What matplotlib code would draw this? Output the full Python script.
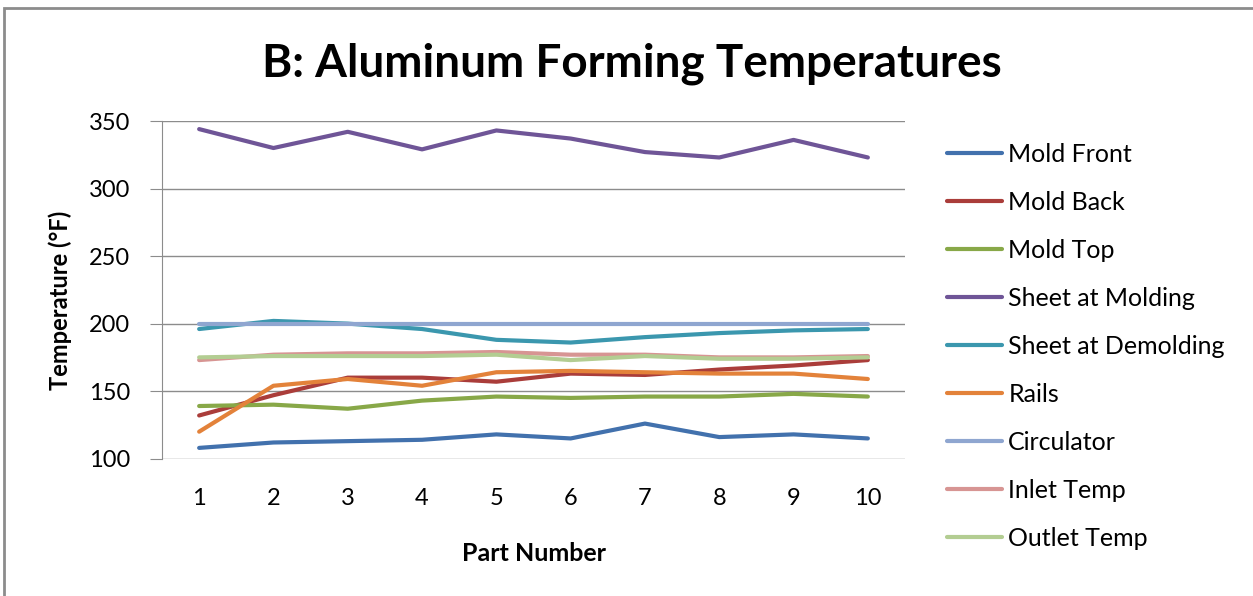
import matplotlib.pyplot as plt
from matplotlib.patches import Rectangle

plt.rcParams['font.family'] = ['Lato', 'DejaVu Sans']

parts = [1, 2, 3, 4, 5, 6, 7, 8, 9, 10]

mold_front = [108, 112, 113, 114, 118, 115, 126, 116, 118, 115]
mold_back = [132, 147, 160, 160, 157, 163, 162, 166, 169, 173]
mold_top = [139, 140, 137, 143, 146, 145, 146, 146, 148, 146]
sheet_molding = [344, 330, 342, 329, 343, 337, 327, 323, 336, 323]
sheet_demolding = [196, 202, 200, 196, 188, 186, 190, 193, 195, 196]
rails = [120, 154, 159, 154, 164, 165, 164, 163, 163, 159]
circulator = [200, 200, 200, 200, 200, 200, 200, 200, 200, 200]
inlet_temp = [173, 177, 178, 178, 179, 177, 177, 175, 175, 176]
outlet_temp = [175, 176, 176, 176, 177, 173, 176, 174, 174, 175]

series = [
    ('Mold Front', mold_front, '#4271ad'),
    ('Mold Back', mold_back, '#aa3d3a'),
    ('Mold Top', mold_top, '#88a848'),
    ('Sheet at Molding', sheet_molding, '#6f5597'),
    ('Sheet at Demolding', sheet_demolding, '#3b97ae'),
    ('Rails', rails, '#e3823a'),
    ('Circulator', circulator, '#8fa6d0'),
    ('Inlet Temp', inlet_temp, '#d79593'),
    ('Outlet Temp', outlet_temp, '#b3cd92'),
]

fig = plt.figure(figsize=(12.53, 5.96), dpi=100)
ax = fig.add_axes([162 / 1253, 1 - 458.7 / 596, (905 - 162) / 1253, (458.7 - 121) / 596])

for name, vals, col in series:
    ax.plot(parts, vals, color=col, lw=3, label=name, solid_capstyle='round')

ax.set_xlim(0.5, 10.5)
ax.set_ylim(100, 350)
ax.set_yticks([100, 150, 200, 250, 300, 350])
ax.set_xticks(parts)
ax.grid(axis='y', color='#8c8c8c', lw=1)
ax.set_axisbelow(True)
for s in ['top', 'right', 'bottom']:
    ax.spines[s].set_visible(False)
ax.spines['left'].set_color('#8c8c8c')
ax.tick_params(axis='y', length=9, color='#8c8c8c', labelsize=17, pad=14)
ax.tick_params(axis='x', length=0, labelsize=17, pad=21)

ax.set_xlabel('Part Number', fontsize=18, fontweight='bold', labelpad=24)
ax.set_ylabel('Temperature (°F)', fontsize=17, fontweight='bold')
ax.yaxis.set_label_coords(-0.121, 0.47)

fig.text(0.504, 0.893, 'B: Aluminum Forming Temperatures', ha='center', va='center',
         fontsize=33, fontweight='bold')

leg = ax.legend(loc='upper left', bbox_to_anchor=(947 / 1253, 1 - 143 / 596),
                bbox_transform=fig.transFigure, frameon=False, fontsize=18,
                handlelength=2.2, handletextpad=0.25, labelspacing=1.0,
                borderpad=0, borderaxespad=0)

fig.patches.append(Rectangle((4 / 1253, -0.1), 1.2, 1 - 8 / 596 + 0.1, transform=fig.transFigure,
                             fill=False, edgecolor='#8c8c8c', lw=2))

fig.savefig('out.png', dpi=100)
